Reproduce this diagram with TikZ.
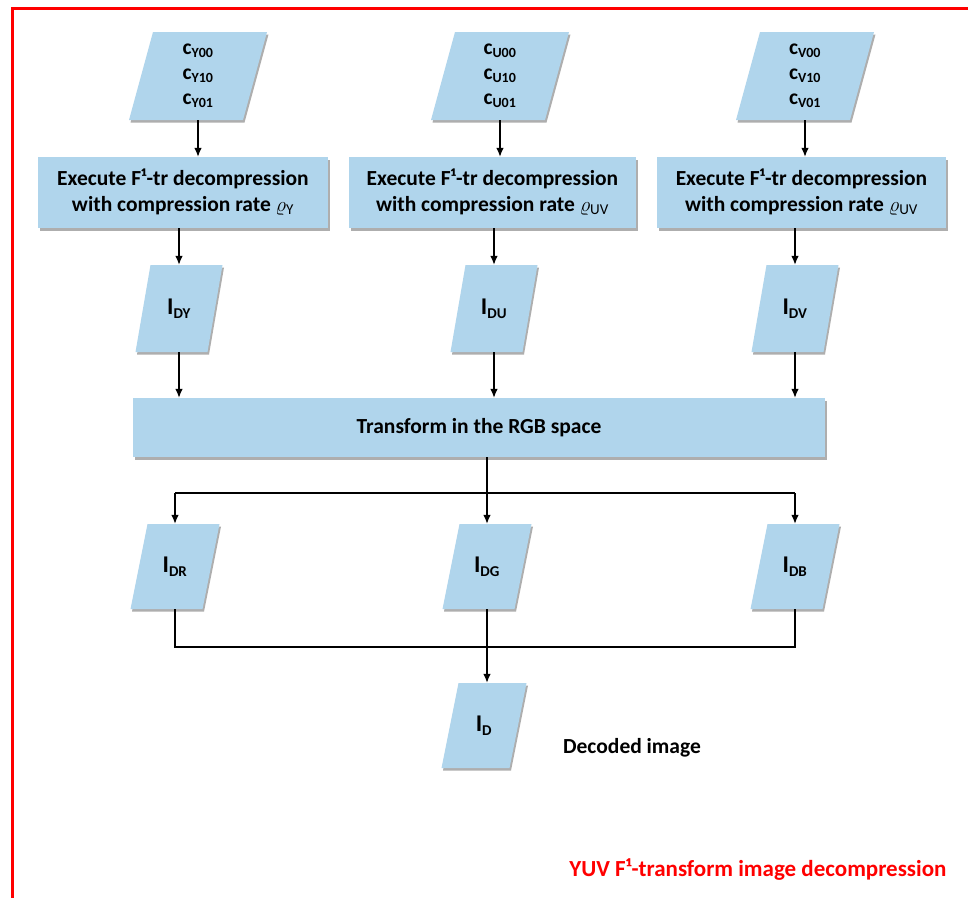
\documentclass[tikz,border=0pt]{standalone}
\usepackage{fontspec}
\setmainfont{Carlito}
\usetikzlibrary{arrows.meta,shadows,calc}
\definecolor{boxblue}{RGB}{176,213,236}
\definecolor{capred}{RGB}{255,0,0}
\tikzset{
  shd/.style={drop shadow={shadow xshift=1.5pt,shadow yshift=-2.5pt,opacity=0.45,fill=black!70}},
  procbox/.style={fill=boxblue,shd,align=center,inner sep=0pt,font=\fontsize{21.5}{26}\selectfont\bfseries},
  paratext/.style={inner sep=0pt,align=center,font=\fontsize{21.5}{26}\selectfont\bfseries},
  arr/.style={-{Latex[length=9pt,width=7.5pt]},line width=1.2pt},
  ln/.style={line width=1.2pt},
}
\newcommand\para[7]{% name, cx, cy, w, h, slant, text
  \fill[boxblue,shd] ({#2-#4/2+#6/2},{#3-#5/2}) -- ({#2+#4/2+#6/2},{#3-#5/2})
     -- ({#2+#4/2-#6/2},{#3+#5/2}) -- ({#2-#4/2-#6/2},{#3+#5/2}) -- cycle;
  \node[paratext,minimum width=#4pt,minimum height=#5pt] (#1) at (#2,#3) {#7};
}
\newcommand\cs[1]{c\textsubscript{\fontsize{14}{14}\selectfont #1}}
\newcommand\Is[1]{\fontsize{24}{24}\selectfont I\textsubscript{\fontsize{15}{15}\selectfont #1}}
\newcommand\rate[1]{$\varrho_{\mathrm{#1}}$}
\begin{document}
\begin{tikzpicture}[x=1pt,y=-1pt]
\useasboundingbox (0,0) rectangle (968,898);
\fill[white] (0,0) rectangle (968,898);
% red frame
\draw[capred,line width=3pt] (11,8.5) -- (968,8.5);
\draw[capred,line width=3pt] (12.5,7) -- (12.5,898);

% top inputs
\para{pY}{198}{76}{114}{88}{24}{\cs{Y00}\\[-1pt]\cs{Y10}\\[-1pt]\cs{Y01}}
\para{pU}{500}{76}{114}{88}{24}{\cs{U00}\\[-1pt]\cs{U10}\\[-1pt]\cs{U01}}
\para{pV}{805}{76}{114}{88}{24}{\cs{V00}\\[-1pt]\cs{V10}\\[-1pt]\cs{V01}}

% process boxes
\node[procbox,minimum width=290pt,minimum height=71pt] (bY) at (183,192.5)
  {Execute F¹-tr decompression\\with compression rate \rate{Y}};
\node[procbox,minimum width=287pt,minimum height=71pt] (bU) at (492.5,192.5)
  {Execute F¹-tr decompression\\with compression rate \rate{UV}};
\node[procbox,minimum width=289pt,minimum height=71pt] (bV) at (801.5,192.5)
  {Execute F¹-tr decompression\\with compression rate \rate{UV}};

% decompressed channels
\para{iDY}{179}{308.5}{72}{87}{15}{\Is{DY}}
\para{iDU}{494}{308.5}{72}{87}{15}{\Is{DU}}
\para{iDV}{795}{308.5}{72}{87}{15}{\Is{DV}}

% RGB transform
\node[procbox,minimum width=692pt,minimum height=59pt] (rgb) at (479,427.5) {Transform in the RGB space};

% RGB channels
\para{iDR}{175}{566.5}{72}{85}{17}{\Is{DR}}
\para{iDG}{487}{566.5}{72}{85}{17}{\Is{DG}}
\para{iDB}{795}{566.5}{72}{85}{17}{\Is{DB}}

% decoded image
\para{iD}{484}{725.5}{68}{85}{17}{\Is{D}}
\node[paratext] (lbl) at (632,748) {Decoded image};
\node[paratext,text=capred,font=\fontsize{23}{26}\selectfont\bfseries] (cap) at (758,870) {YUV F¹-transform image decompression};

% connectors
\draw[arr] (pY.south) -- (pY.south |- bY.north);
\draw[arr] (pU.south) -- (pU.south |- bU.north);
\draw[arr] (pV.south) -- (pV.south |- bV.north);
\draw[arr] (iDY.north |- bY.south) -- (iDY.north);
\draw[arr] (iDU.north |- bU.south) -- (iDU.north);
\draw[arr] (iDV.north |- bV.south) -- (iDV.north);
\draw[arr] (iDY.south) -- (iDY.south |- rgb.north);
\draw[arr] (iDU.south) -- (iDU.south |- rgb.north);
\draw[arr] (iDV.south) -- (iDV.south |- rgb.north);

\coordinate (sp) at (487,493);
\draw[ln] (sp |- rgb.south) -- (sp);
\draw[ln] (iDR.north |- sp) -- (iDB.north |- sp);
\draw[arr] (iDR.north |- sp) -- (iDR.north);
\draw[arr] (iDG.north |- sp) -- (iDG.north);
\draw[arr] (iDB.north |- sp) -- (iDB.north);

\coordinate (jn) at (487,647);
\draw[ln] (iDR.south) -- (iDR.south |- jn) -- (iDB.south |- jn) -- (iDB.south);
\draw[arr] (iDG.south) -- (iDG.south |- iD.north);
\end{tikzpicture}
\end{document}
